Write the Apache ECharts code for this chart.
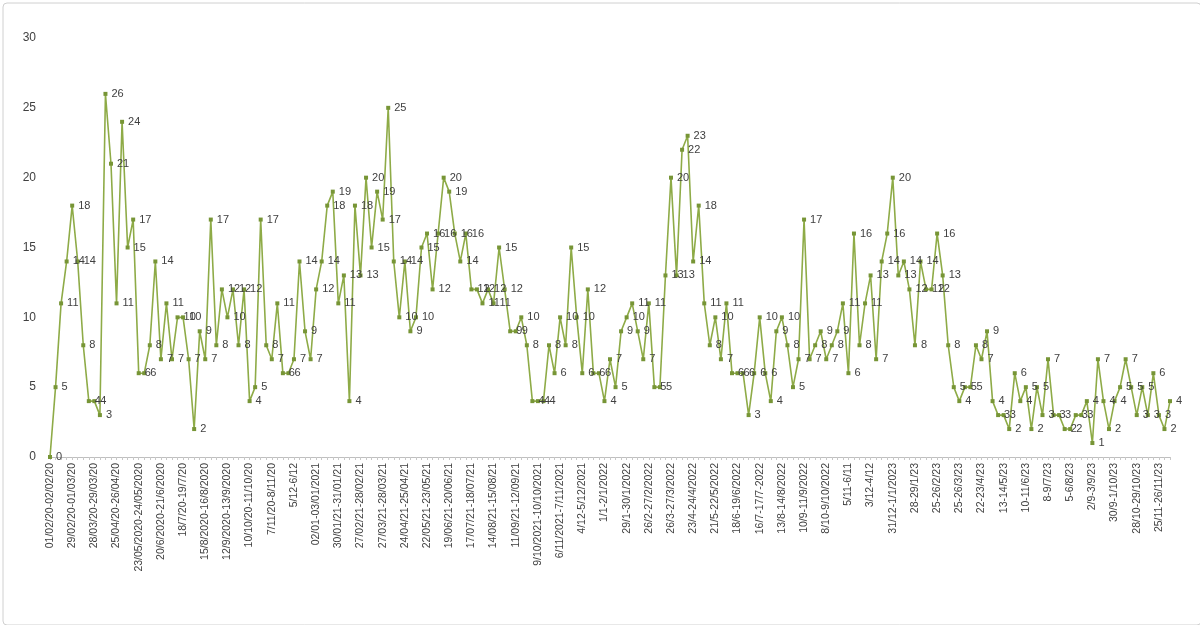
<!DOCTYPE html>
<html>
<head>
<meta charset="utf-8">
<title>Weekly counts</title>
<script src="https://cdn.jsdelivr.net/npm/echarts@6/dist/echarts.min.js"></script>
<style>
  html, body { margin: 0; padding: 0; background: #fff; }
  #chart { width: 1200px; height: 625px; }
</style>
</head>
<body>
<div id="chart"></div>
<script>
// one label every 4th week on the x axis
const tickLabels = [
  '01/02/20-02/02/20', '29/02/20-01/03/20', '28/03/20-29/03/20', '25/04/20-26/04/20',
  '23/05/2020-24/05/2020', '20/6/2020-21/6/2020', '18/7/20-19/7/20', '15/8/2020-16/8/2020',
  '12/9/2020-13/9/2020', '10/10/20-11/10/20', '7/11/20-8/11/20', '5/12-6/12',
  '02/01-03/01/2021', '30/01/21-31/01/21', '27/02/21-28/02/21', '27/03/21-28/03/21',
  '24/04/21-25/04/21', '22/05/21-23/05/21', '19/06/21-20/06/21', '17/07/21-18/07/21',
  '14/08/21-15/08/21', '11/09/21-12/09/21', '9/10/2021-10/10/2021', '6/11/2021-7/11/2021',
  '4/12-5/12/2021', '1/1-2/1/2022', '29/1-30/1/2022', '26/2-27/2/2022',
  '26/3-27/3/2022', '23/4-24/4/2022', '21/5-22/5/2022', '18/6-19/6/2022',
  '16/7-17/7-2022', '13/8-14/8/2022', '10/9-11/9/2022', '8/10-9/10/2022',
  '5/11-6/11', '3/12-4/12', '31/12-1/1/2023', '28-29/1/23',
  '25-26/2/23', '25-26/3/23', '22-23/4/23', '13-14/5/23',
  '10-11/6/23', '8-9/7/23', '5-6/8/23', '2/9-3/9/23',
  '30/9-1/10/23', '28/10-29/10/23', '25/11-26/11/23'
];

const weeklyValues = [
  0, 5, 11, 14, 18, 14, 8, 4, 4, 3,
  26, 21, 11, 24, 15, 17, 6, 6, 8, 14,
  7, 11, 7, 10, 10, 7, 2, 9, 7, 17,
  8, 12, 10, 12, 8, 12, 4, 5, 17, 8,
  7, 11, 6, 6, 7, 14, 9, 7, 12, 14,
  18, 19, 11, 13, 4, 18, 13, 20, 15, 19,
  17, 25, 14, 10, 14, 9, 10, 15, 16, 12,
  16, 20, 19, 16, 14, 16, 12, 12, 11, 12,
  11, 15, 12, 9, 9, 10, 8, 4, 4, 4,
  8, 6, 10, 8, 15, 10, 6, 12, 6, 6,
  4, 7, 5, 9, 10, 11, 9, 7, 11, 5,
  5, 13, 20, 13, 22, 23, 14, 18, 11, 8,
  10, 7, 11, 6, 6, 6, 3, 6, 10, 6,
  4, 9, 10, 8, 5, 7, 17, 7, 8, 9,
  7, 8, 9, 11, 6, 16, 8, 11, 13, 7,
  14, 16, 20, 13, 14, 12, 8, 14, 12, 12,
  16, 13, 8, 5, 4, 5, 5, 8, 7, 9,
  4, 3, 3, 2, 6, 4, 5, 2, 5, 3,
  7, 3, 3, 2, 2, 3, 3, 4, 1, 7,
  4, 2, 4, 5, 7, 5, 3, 5, 3, 6,
  3, 2, 4
];

const yTicks = { min: 0, max: 30, interval: 5 };

// every week gets a category; only every 4th one carries a visible label
const categories = weeklyValues.map((v, i) => (i % 4 === 0 ? tickLabels[i / 4] : 'w' + i));

const chart = echarts.init(document.getElementById('chart'), null, { renderer: 'canvas' });

chart.setOption({
  backgroundColor: '#fff',
  animation: false,
  textStyle: { fontFamily: 'Liberation Sans, Arial, sans-serif' },
  graphic: [{
    type: 'rect',
    left: 0.5, top: 0.5,
    shape: { width: 1198, height: 622, r: 4 },
    style: { fill: 'none', stroke: '#d0d0d0', lineWidth: 1 },
    silent: true
  }],
  grid: { left: 50, right: 30, top: 38, bottom: 168 },
  xAxis: {
    type: 'category',
    data: categories,
    boundaryGap: false,
    axisLine: { lineStyle: { color: '#bfbfbf' } },
    axisTick: { show: true, interval: 0, length: 3, lineStyle: { color: '#c8c8c8' } },
    axisLabel: {
      interval: 3,
      rotate: 90,
      color: '#404040',
      fontSize: 10.5,
      margin: 6
    },
    splitLine: { show: false }
  },
  yAxis: {
    type: 'value',
    min: yTicks.min,
    max: yTicks.max,
    interval: yTicks.interval,
    axisLine: { show: false },
    axisTick: { show: false },
    axisLabel: { color: '#404040', fontSize: 12, margin: 14 },
    splitLine: { show: false }
  },
  series: [{
    type: 'line',
    data: weeklyValues,
    showAllSymbol: true,
    symbol: 'rect',
    symbolSize: 4,
    lineStyle: { color: '#8eab47', width: 1.6 },
    itemStyle: { color: '#779536' },
    label: {
      show: true,
      position: 'right',
      distance: 4,
      color: '#404040',
      fontSize: 11
    },
    labelLayout: { hideOverlap: false }
  }]
});
</script>
</body>
</html>
